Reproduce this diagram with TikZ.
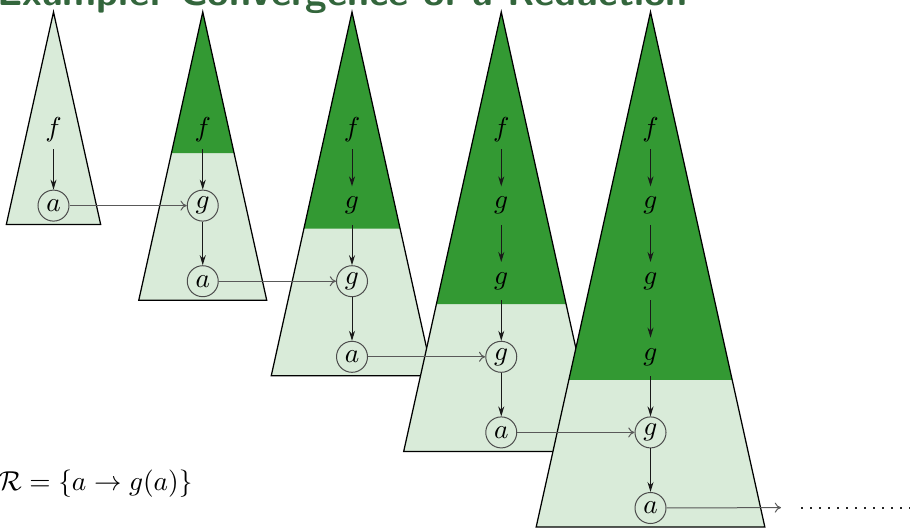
\documentclass[tikz,border=0pt]{standalone}
\usetikzlibrary{arrows.meta}
\definecolor{lightgr}{RGB}{217,235,217}
\definecolor{darkgr}{RGB}{51,153,51}
\definecolor{titlegr}{RGB}{51,102,60}
\tikzset{
  tri/.style={draw=black, line width=0.5pt, line join=miter},
  circ/.style={circle, draw=black!70, line width=0.4pt, minimum size=12.4pt, inner sep=0pt, font=\fontsize{11}{13}\selectfont},
  plainnode/.style={circle, minimum size=15pt, inner sep=0pt, font=\fontsize{11}{13}\selectfont},
  down/.style={-{Stealth[length=4pt,width=2.4pt]}, black!90, line width=0.4pt},
  across/.style={-{To[length=2.5pt,width=4pt]}, black!65, line width=0.4pt},
  dotline/.style={black!85, line width=0.8pt, dash pattern=on 0.8pt off 2.8pt},
}
\begin{document}
\begin{tikzpicture}[x=0.4pt,y=-0.4pt]
\clip (0,0) rectangle (911,528);
% triangles
\foreach \i in {0,...,4}{
  \pgfmathsetmacro\X{53.5+149.25*\i}
  \pgfmathsetmacro\B{130+75.6*(\i+1)+19}
  \pgfmathsetmacro\hw{0.222*(\B-12)}
  \fill[lightgr] (\X,12) -- (\X-\hw,\B) -- (\X+\hw,\B) -- cycle;
  \ifnum\i>0
    \pgfmathsetmacro\D{130+75.6*(\i-1)+23}
    \pgfmathsetmacro\hd{0.222*(\D-12)}
    \fill[darkgr] (\X,12) -- (\X-\hd,\D) -- (\X+\hd,\D) -- cycle;
  \fi
  \draw[tri] (\X,12) -- (\X-\hw,\B) -- (\X+\hw,\B) -- cycle;
}
% nodes
\foreach \i in {0,...,4}{
  \pgfmathsetmacro\X{53.5+149.25*\i}
  \pgfmathtruncatemacro\last{\i+1}
  \pgfmathtruncatemacro\firstc{max(\i,1)}
  \foreach \k in {0,...,\last}{
    \pgfmathsetmacro\Y{130+75.6*\k}
    \ifnum\k=0 \def\lab{$f$}\else\ifnum\k=\last \def\lab{$a$}\else\def\lab{$g$}\fi\fi
    \ifnum\k<\firstc
      \node[plainnode] (n\i-\k) at (\X,\Y) {\lab};
    \else
      \node[circ] (n\i-\k) at (\X,\Y) {\lab};
    \fi
  }
}
% vertical arrows
\foreach \i in {0,...,4}{
  \foreach \k in {0,...,\i}{
    \pgfmathtruncatemacro\kk{\k+1}
    \draw[down] (n\i-\k) -- (n\i-\kk);
  }
}
% horizontal arrows
\foreach \i in {0,...,3}{
  \pgfmathtruncatemacro\j{\i+1}
  \draw[across] (n\i-\j) -- (n\j-\j);
}
\coordinate (endpt) at (781,507.6);
\draw[across] (n4-5) -- (endpt);
\coordinate (d0) at (801,507.6);
\coordinate (d1) at (910,507.6);
\draw[dotline] (d0) -- (d1);
% rule
\node[anchor=base east, inner sep=0pt, font=\fontsize{11}{13}\selectfont] (rule) at (193,490) {$\mathcal{R} = \{a \to g(a)\}$};
% title
\node[anchor=base west, inner sep=0pt, text=titlegr, font=\sffamily\bfseries\fontsize{15.7}{19}\selectfont] (title) at (-3,5) {Example: Convergence of a Reduction};
\end{tikzpicture}
\end{document}
